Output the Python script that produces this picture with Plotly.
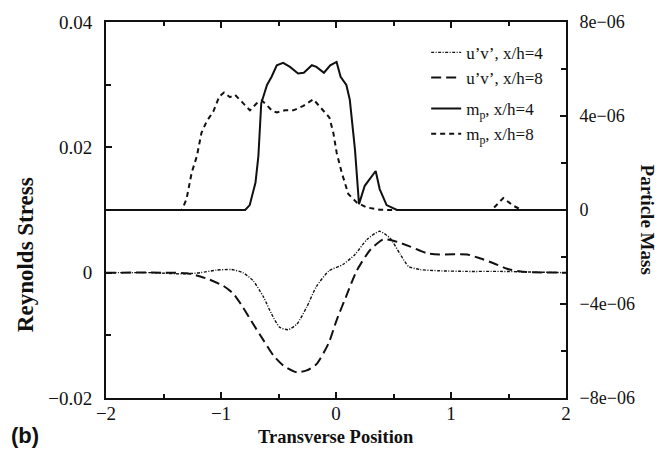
import plotly.graph_objects as go

# Reynolds stress u'v' (left axis)
x_uv4 = [-2.0, -1.6, -1.33, -1.18, -1.04, -0.91, -0.81, -0.72, -0.63, -0.56, -0.49, -0.415,
         -0.34, -0.255, -0.17, -0.06, 0.06, 0.165, 0.27, 0.38, 0.47, 0.56, 0.63, 0.73,
         0.90, 1.14, 1.43, 1.71, 2.0]
uv4 = [0.0, 0.0, -0.0002, 0.0, 0.0004, 0.0005, 0.0, -0.0013, -0.0039, -0.0066, -0.0087, -0.0091,
       -0.0082, -0.0055, -0.0022, 0.0003, 0.0013, 0.0029, 0.0053, 0.0066, 0.0055, 0.0029, 0.0010, 0.0005,
       0.0003, 0.0002, 0.0002, 0.0001, 0.0]

x_uv8 = [-2.0, -1.5, -1.30, -1.18, -1.10, -0.98, -0.89, -0.81, -0.72, -0.63, -0.545, -0.46,
         -0.34, -0.255, -0.17, -0.065, 0.005, 0.09, 0.18, 0.30, 0.41, 0.50, 0.64, 0.79,
         0.90, 1.14, 1.25, 1.37, 1.51, 1.66, 2.0]
uv8 = [0.0, 0.0, -0.0001, -0.0006, -0.0011, -0.0021, -0.0034, -0.0055, -0.0082, -0.0108, -0.0132, -0.0148,
       -0.0159, -0.0156, -0.0146, -0.0113, -0.0076, -0.0037, 0.0003, 0.0037, 0.0053, 0.0051, 0.0042, 0.0031,
       0.0029, 0.0029, 0.0023, 0.0015, 0.0005, 0.0001, 0.0]

# Particle mass m_p (right axis)
x_mp4 = [-2.0, -0.79, -0.75, -0.70, -0.675, -0.66, -0.65, -0.60, -0.56, -0.515, -0.46, -0.40,
         -0.33, -0.28, -0.21, -0.17, -0.105, -0.05, 0.005, 0.04, 0.09, 0.12, 0.165, 0.20,
         0.25, 0.345, 0.38, 0.44, 0.53, 2.0]
mp4 = [0.0, 0.0, 0.21e-6, 1.17e-6, 2.29e-6, 3.70e-6, 4.54e-6, 5.32e-6, 5.67e-6, 6.16e-6, 6.26e-6, 6.09e-6,
       5.81e-6, 5.84e-6, 6.16e-6, 6.09e-6, 5.84e-6, 6.16e-6, 6.30e-6, 5.67e-6, 5.32e-6, 4.69e-6, 2.57e-6, 0.25e-6,
       1.03e-6, 1.66e-6, 0.89e-6, 0.21e-6, 0.0, 0.0]

x_mp8 = [-2.0, -1.34, -1.30, -1.255, -1.21, -1.17, -1.125, -1.067, -1.015, -0.974, -0.922, -0.878,
         -0.82, -0.748, -0.69, -0.646, -0.603, -0.559, -0.516, -0.443, -0.371, -0.284, -0.197, -0.139,
         -0.058, -0.023, 0.006, 0.05, 0.107, 0.18, 0.267, 0.383, 0.5, 1.354, 1.455, 1.542, 1.615, 2.0]
mp8 = [0.0, 0.0, 0.46e-6, 1.59e-6, 2.29e-6, 3.28e-6, 3.77e-6, 4.19e-6, 4.83e-6, 5.00e-6, 4.80e-6, 4.90e-6,
       4.61e-6, 4.24e-6, 4.54e-6, 4.66e-6, 4.47e-6, 4.24e-6, 4.15e-6, 4.24e-6, 4.24e-6, 4.43e-6, 4.71e-6, 4.40e-6,
       3.94e-6, 3.28e-6, 2.43e-6, 1.59e-6, 0.68e-6, 0.32e-6, 0.11e-6, 0.01e-6, 0.0, 0.0, 0.51e-6, 0.18e-6, 0.0, 0.0]

names = ["u\u2019v\u2019, x/h=4", "u\u2019v\u2019, x/h=8", "m<sub>p</sub>, x/h=4", "m<sub>p</sub>, x/h=8"]
y2_tickvals = [-8e-6, -4e-6, 0, 4e-6, 8e-6]
y2_ticktext = ["\u22128e\u221206", "\u22124e\u221206", "0", "4e\u221206", "8e\u221206"]

INK = "#111111"
SERIF = "Liberation Serif"

fig = go.Figure()
fig.add_trace(go.Scatter(x=x_uv4, y=uv4, mode="lines", name=names[0], legendgroup="uv",
                         line=dict(color=INK, width=1.4, dash="3px,1.5px,1px,1.5px", shape="spline", smoothing=0.6)))
fig.add_trace(go.Scatter(x=x_uv8, y=uv8, mode="lines", name=names[1], legendgroup="uv",
                         line=dict(color=INK, width=2, dash="10px,5px", shape="spline", smoothing=0.6)))
fig.add_trace(go.Scatter(x=x_mp4, y=mp4, mode="lines", name=names[2], legendgroup="mp", yaxis="y2",
                         line=dict(color=INK, width=2)))
fig.add_trace(go.Scatter(x=x_mp8, y=mp8, mode="lines", name=names[3], legendgroup="mp", yaxis="y2",
                         line=dict(color=INK, width=2, dash="5px,4px")))

tickfont = dict(family=SERIF, size=19, color=INK)
fig.update_layout(
    width=667, height=453,
    margin=dict(l=106, r=101, t=19, b=55),
    paper_bgcolor="white", plot_bgcolor="white",
    showlegend=True,
    legend=dict(x=0.696, y=0.966, xanchor="left", yanchor="top", bgcolor="rgba(0,0,0,0)",
                font=dict(family=SERIF, size=17, color=INK), traceorder="grouped",
                tracegroupgap=6, itemwidth=30),
    xaxis=dict(range=[-2, 2], dtick=1, tick0=-2, showgrid=False, zeroline=False,
               showline=True, linecolor=INK, linewidth=2, mirror="ticks",
               ticks="inside", ticklen=6, tickwidth=1.5, tickcolor=INK, tickfont=tickfont,
               ticklabelstandoff=-3,
               minor=dict(dtick=0.5, tick0=-2, ticks="inside", ticklen=4, tickwidth=1.5, tickcolor=INK, showgrid=False)),
    yaxis=dict(range=[-0.02, 0.04], dtick=0.02, tick0=0, showgrid=False, zeroline=False,
               showline=True, linecolor=INK, linewidth=2,
               ticks="inside", ticklen=6, tickwidth=1.5, tickcolor=INK, tickfont=tickfont,
               ticklabelstandoff=8,
               minor=dict(dtick=0.01, tick0=0, ticks="inside", ticklen=5, tickwidth=1.5, tickcolor=INK, showgrid=False)),
    yaxis2=dict(range=[-8e-6, 8e-6], overlaying="y", side="right", showgrid=False, zeroline=False,
                showline=True, linecolor=INK, linewidth=2,
                tickmode="array", tickvals=y2_tickvals, ticktext=y2_ticktext,
                ticks="inside", ticklen=6, tickwidth=1.5, tickcolor=INK,
                tickfont=dict(family=SERIF, size=18, color=INK),
                ticklabelstandoff=8,
                minor=dict(tickmode="array", tickvals=[-6e-6, -2e-6, 2e-6, 6e-6], ticks="inside",
                           ticklen=5, tickwidth=1.5, tickcolor=INK, showgrid=False)),
    annotations=[
        dict(text="<b>Transverse Position</b>", xref="paper", yref="paper", x=0.5, y=-0.104,
             xanchor="center", yanchor="middle", showarrow=False, font=dict(family=SERIF, size=18.5, color=INK)),
        dict(text="<b>Reynolds Stress</b>", xref="paper", yref="paper", x=-0.176, y=0.380,
             xanchor="center", yanchor="middle", textangle=-90, showarrow=False,
             font=dict(family=SERIF, size=23, color=INK)),
        dict(text="<b>Particle Mass</b>", xref="paper", yref="paper", x=1.178, y=0.475,
             xanchor="center", yanchor="middle", textangle=90, showarrow=False,
             font=dict(family=SERIF, size=19, color=INK)),
        dict(text="<b>(b)</b>", xref="paper", yref="paper", x=-0.211, y=-0.100,
             xanchor="left", yanchor="middle", showarrow=False,
             font=dict(family="Liberation Sans", size=22, color=INK)),
    ],
)

fig.write_html("out.html")
